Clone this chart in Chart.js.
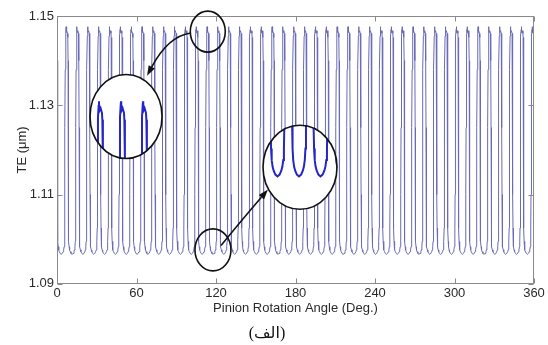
<!DOCTYPE html>
<html>
<head>
<meta charset="utf-8">
<script src="https://cdn.jsdelivr.net/npm/chart.js@4.4.1/dist/chart.umd.min.js"></script>
<style>
html,body{margin:0;padding:0;background:#fff;}
#wrap{width:548px;height:345px;}
</style>
</head>
<body>
<div id="wrap"><canvas id="teChart" width="548" height="345"></canvas></div>
<script>
// one tooth-mesh cycle: degrees after the spike rise, TE in um
const toothPhase = [0, 0.1, 0.6, 1.1, 1.25, 1.45, 1.6, 1.7, 1.8, 2.0, 2.25, 2.6, 3.0, 3.65, 4.45,
    5.25, 5.9, 6.3, 6.65, 6.9, 7.1, 7.2, 7.3, 7.5, 7.8, 8.05];
const toothTE = [1.1476, 1.1463, 1.1467, 1.1461, 1.1452, 1.1400, 1.1250, 1.1100, 1.1025, 1.0995, 1.0983, 1.0976, 1.0972, 1.0968, 1.0966,
    1.0968, 1.0972, 1.0976, 1.0983, 1.0995, 1.1025, 1.1100, 1.1250, 1.1380, 1.1455, 1.1470];
const toothCount = 44;
const firstPeak = 6.9;
const valleyPhase = 4.45;

const xTicks = [0, 60, 120, 180, 240, 300, 360];
const yTicks = [1.09, 1.11, 1.13, 1.15];

const period = 360 / toothCount;

function buildSeries(fromTooth, toTooth){
    const pts = [];
    for(let k = fromTooth; k <= toTooth; k++){
        for(let i = 0; i < toothPhase.length; i++){
            pts.push({x: firstPeak + k*period + toothPhase[i], y: toothTE[i]});
        }
    }
    pts.push({x: firstPeak + (toTooth+1)*period, y: toothTE[0]});
    return pts;
}

// fixed plot box (pixels) so the zoom axes can be lined up with it
const box = {left:57, top:16, width:477, height:267};

function zoomX(focus, px, scale){
    const min = focus - (px - box.left)/scale;
    return {min, max: min + box.width/scale};
}
function zoomY(focus, py, scale){
    const max = focus + (py - box.top)/scale;
    return {min: max - box.height/scale, max};
}

const zxA = zoomX(firstPeak + 13*period, 121, 2.69);
const zyA = zoomY(1.1476, 101, 7700);
const zxB = zoomX(firstPeak + 13*period + valleyPhase, 299, 2.63);
const zyB = zoomY(1.0966, 176, 9600);

// circles in data coordinates of the main axes, radii in px
const rings = {
    smallA:{x:113.8, y:1.1465, rx:17.5, ry:20.5},
    bigA:{x:52.1, y:1.1275, rx:36, ry:42},
    smallB:{x:117.7, y:1.0976, rx:18, ry:21},
    bigB:{x:183.4, y:1.1161, rx:37, ry:42}
};
const arrows = [
    {from:[101.1, 1.1462], ctrl:[83.8, 1.1455], to:[68.0, 1.1366]},
    {from:[123.8, 1.0986], ctrl:[140.3, 1.1046], to:[159.2, 1.1111]}
];

function ringPath(chart, r){
    const {x, y} = chart.scales;
    const ctx = chart.ctx;
    ctx.beginPath();
    ctx.ellipse(x.getPixelForValue(r.x), y.getPixelForValue(r.y), r.rx, r.ry, 0, 0, Math.PI*2);
}

const frameTicks = {
    id:'frameTicks',
    afterDatasetsDraw(chart){
        const {ctx, chartArea:a, scales:{x, y}} = chart;
        const L = Math.round(a.left)+0.5, R = Math.round(a.right)-0.5;
        const T = Math.round(a.top)+0.5, B = Math.round(a.bottom)-0.5;
        ctx.save();
        ctx.strokeStyle = '#8a8a8a';
        ctx.lineWidth = 1;
        ctx.strokeRect(L, T, R-L, B-T);
        ctx.beginPath();
        xTicks.forEach(v=>{
            const p = Math.round(x.getPixelForValue(v))+0.5;
            ctx.moveTo(p, B); ctx.lineTo(p, B-5);
            ctx.moveTo(p, T); ctx.lineTo(p, T+5);
        });
        yTicks.forEach(v=>{
            const p = Math.round(y.getPixelForValue(v))+0.5;
            ctx.moveTo(L, p); ctx.lineTo(L+5, p);
            ctx.moveTo(R, p); ctx.lineTo(R-5, p);
        });
        ctx.stroke();
        ctx.restore();
    }
};

const zoomRings = {
    id:'zoomRings',
    beforeDatasetDraw(chart, args){
        const ds = chart.data.datasets[args.index];
        if(!ds.ring) return;
        const ctx = chart.ctx;
        ctx.save();
        ringPath(chart, rings[ds.ring]);
        ctx.fillStyle = '#fff';
        ctx.fill();
        ctx.clip();
    },
    afterDatasetDraw(chart, args){
        const ds = chart.data.datasets[args.index];
        if(!ds.ring) return;
        const ctx = chart.ctx;
        ctx.restore();
        ctx.save();
        ringPath(chart, rings[ds.ring]);
        ctx.strokeStyle = '#111';
        ctx.lineWidth = 1.6;
        ctx.stroke();
        ctx.restore();
    },
    afterDatasetsDraw(chart){
        const {ctx, scales:{x, y}} = chart;
        ctx.save();
        ctx.strokeStyle = '#111';
        ctx.fillStyle = '#111';
        ctx.lineWidth = 1.6;
        ['smallA', 'smallB'].forEach(k=>{
            ringPath(chart, rings[k]);
            ctx.stroke();
        });
        arrows.forEach(a=>{
            const p0 = [x.getPixelForValue(a.from[0]), y.getPixelForValue(a.from[1])];
            const c = [x.getPixelForValue(a.ctrl[0]), y.getPixelForValue(a.ctrl[1])];
            const p1 = [x.getPixelForValue(a.to[0]), y.getPixelForValue(a.to[1])];
            const ang = Math.atan2(p1[1]-c[1], p1[0]-c[0]);
            const hl = 10, hw = 3.5;
            const bx = p1[0] - hl*Math.cos(ang), by = p1[1] - hl*Math.sin(ang);
            ctx.beginPath();
            ctx.moveTo(p0[0], p0[1]);
            ctx.quadraticCurveTo(c[0], c[1], bx, by);
            ctx.stroke();
            ctx.beginPath();
            ctx.moveTo(p1[0], p1[1]);
            ctx.lineTo(bx - hw*Math.sin(ang), by + hw*Math.cos(ang));
            ctx.lineTo(bx + hw*Math.sin(ang), by - hw*Math.cos(ang));
            ctx.closePath();
            ctx.fill();
        });
        ctx.restore();
    }
};

const labelFont = {family:'"Liberation Sans", Arial, sans-serif', size:13};
const textColor = '#2a2a2a';

new Chart(document.getElementById('teChart'), {
    type:'line',
    data:{
        datasets:[
            {
                data: buildSeries(-1, toothCount),
                borderColor:'#6a6ab6',
                borderWidth:1,
                pointRadius:0,
                tension:0,
                order:3,
                xAxisID:'x',
                yAxisID:'y'
            },
            {
                data: buildSeries(10, 16),
                ring:'bigA',
                borderColor:'#2525c8',
                borderWidth:2,
                pointRadius:0,
                tension:0,
                order:1,
                xAxisID:'xa',
                yAxisID:'ya'
            },
            {
                data: buildSeries(10, 16),
                ring:'bigB',
                borderColor:'#2525c8',
                borderWidth:2,
                pointRadius:0,
                tension:0,
                order:1,
                xAxisID:'xb',
                yAxisID:'yb'
            }
        ]
    },
    options:{
        responsive:false,
        animation:false,
        devicePixelRatio:1,
        layout:{padding:{top:16, right:14, left:0, bottom:0}},
        plugins:{
            legend:{display:false},
            tooltip:{enabled:false},
            title:{
                display:true,
                position:'bottom',
                text:'(الف)',
                color:'#111',
                font:{family:'"Liberation Serif", "DejaVu Sans", serif', size:16, weight:'normal'},
                padding:{top:8, bottom:2}
            }
        },
        scales:{
            x:{
                type:'linear',
                min:0,
                max:360,
                afterFit: s => { s.height = 32; },
                afterBuildTicks: s => { s.ticks = xTicks.map(v=>({value:v})); },
                ticks:{font:labelFont, color:textColor, padding:2, maxRotation:0},
                grid:{display:false, drawTicks:false},
                border:{display:false},
                title:{display:true, text:'Pinion Rotation Angle (Deg.)', font:labelFont, color:textColor, padding:0}
            },
            y:{
                type:'linear',
                min:1.09,
                max:1.15,
                afterFit: s => { s.width = 57; },
                afterBuildTicks: s => { s.ticks = yTicks.map(v=>({value:v})); },
                ticks:{font:labelFont, color:textColor, padding:3, callback: v => v.toFixed(2)},
                grid:{display:false, drawTicks:false},
                border:{display:false},
                title:{display:true, text:'TE (\u03bcm)', font:labelFont, color:textColor, padding:{top:15, bottom:0}}
            },
            xa:{type:'linear', display:false, min:zxA.min, max:zxA.max},
            ya:{type:'linear', display:false, min:zyA.min, max:zyA.max},
            xb:{type:'linear', display:false, min:zxB.min, max:zxB.max},
            yb:{type:'linear', display:false, min:zyB.min, max:zyB.max}
        }
    },
    plugins:[frameTicks, zoomRings]
});
</script>
</body>
</html>
